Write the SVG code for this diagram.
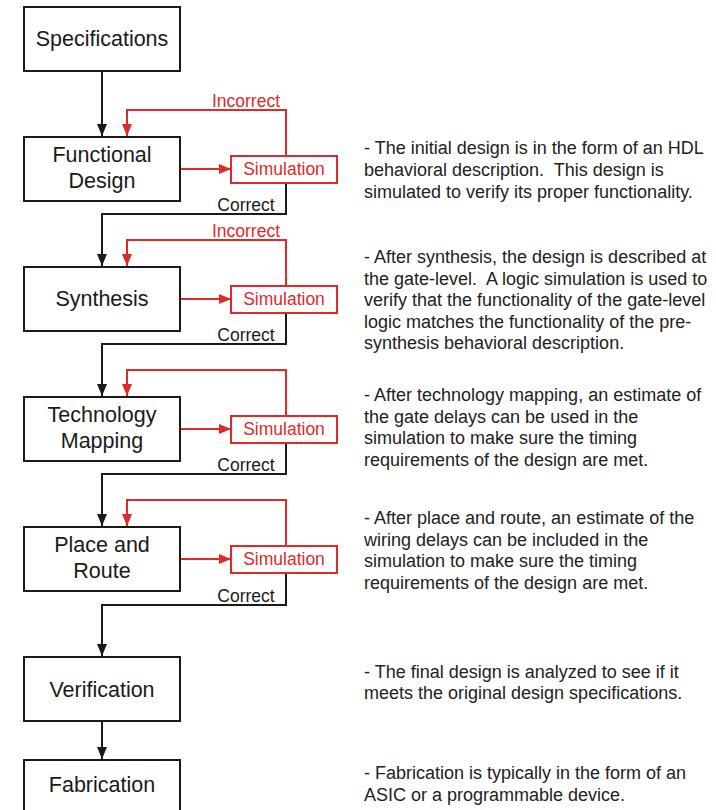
<svg xmlns="http://www.w3.org/2000/svg" width="716" height="810" viewBox="0 0 716 810">
<defs>
<marker id="ab" viewBox="0 0 12 10" refX="12" refY="5" markerWidth="12" markerHeight="10" markerUnits="userSpaceOnUse" orient="auto"><path d="M0,0 L12,5 L0,10 Z" fill="#1a1a1a"/></marker>
<marker id="ar" viewBox="0 0 12 10" refX="12" refY="5" markerWidth="12" markerHeight="10" markerUnits="userSpaceOnUse" orient="auto"><path d="M0,0 L12,5 L0,10 Z" fill="#e02a2a"/></marker>
</defs>
<style>
.box{fill:#fff;stroke:#1a1a1a;stroke-width:2}
.sim{fill:#fff;stroke:#e02a2a;stroke-width:2}
.lbl{font-family:"Liberation Sans",Arial,sans-serif;font-size:21.5px;fill:#1a1a1a;text-anchor:middle}
.simt{font-family:"Liberation Sans",Arial,sans-serif;font-size:17.5px;fill:#e02a2a;text-anchor:middle}
.ct{font-family:"Liberation Sans",Arial,sans-serif;font-size:17.5px;fill:#1a1a1a;text-anchor:middle}
.it{font-family:"Liberation Sans",Arial,sans-serif;font-size:17.5px;fill:#e02a2a;text-anchor:middle}
.desc{font-family:"Liberation Sans",Arial,sans-serif;font-size:18px;fill:#222;white-space:pre}
.bl{fill:none;stroke:#1a1a1a;stroke-width:2}
.rl{fill:none;stroke:#e02a2a;stroke-width:2}
</style>
<rect width="716" height="810" fill="#fff"/>

<g id="connectors">
<path class="bl" d="M102,71 V136" marker-end="url(#ab)"/>
<path class="rl" d="M181,169 H231" marker-end="url(#ar)"/>
<path class="rl" d="M286,155 V110 H127 V136" marker-end="url(#ar)"/>
<path class="bl" d="M286,183 V214 H102 V266" marker-end="url(#ab)"/>
<path class="rl" d="M181,299 H231" marker-end="url(#ar)"/>
<path class="rl" d="M286,285 V240 H127 V266" marker-end="url(#ar)"/>
<path class="bl" d="M286,313 V344 H102 V396" marker-end="url(#ab)"/>
<path class="rl" d="M181,429 H231" marker-end="url(#ar)"/>
<path class="rl" d="M286,415 V370 H127 V396" marker-end="url(#ar)"/>
<path class="bl" d="M286,443 V474 H102 V526" marker-end="url(#ab)"/>
<path class="rl" d="M181,559 H231" marker-end="url(#ar)"/>
<path class="rl" d="M286,545 V500 H127 V526" marker-end="url(#ar)"/>
<path class="bl" d="M286,573 V605 H102 V656" marker-end="url(#ab)"/>
<path class="bl" d="M102,722 V759" marker-end="url(#ab)"/>
<text class="it" x="246" y="107">Incorrect</text>
<text class="ct" x="246" y="211">Correct</text>
<text class="it" x="246" y="237">Incorrect</text>
<text class="ct" x="246" y="341">Correct</text>
<text class="ct" x="246" y="471">Correct</text>
<text class="ct" x="246" y="602">Correct</text>
</g>

<g id="specifications"><rect class="box" x="24" y="7" width="156" height="64"/><text class="lbl" x="102" y="46">Specifications</text></g>
<g id="functional-design"><rect class="box" x="24" y="137" width="156" height="64"/><text class="lbl" x="102" y="162">Functional</text><text class="lbl" x="102" y="188">Design</text></g>
<g id="sim1"><rect class="sim" x="231" y="156" width="106" height="27"/><text class="simt" x="284" y="175">Simulation</text></g>
<g id="synthesis"><rect class="box" x="24" y="267" width="156" height="64"/><text class="lbl" x="102" y="306">Synthesis</text></g>
<g id="sim2"><rect class="sim" x="231" y="286" width="106" height="27"/><text class="simt" x="284" y="305">Simulation</text></g>
<g id="technology-mapping"><rect class="box" x="24" y="397" width="156" height="64"/><text class="lbl" x="102" y="422">Technology</text><text class="lbl" x="102" y="448">Mapping</text></g>
<g id="sim3"><rect class="sim" x="231" y="416" width="106" height="27"/><text class="simt" x="284" y="435">Simulation</text></g>
<g id="place-and-route"><rect class="box" x="24" y="527" width="156" height="64"/><text class="lbl" x="102" y="552">Place and</text><text class="lbl" x="102" y="578">Route</text></g>
<g id="sim4"><rect class="sim" x="231" y="546" width="106" height="27"/><text class="simt" x="284" y="565">Simulation</text></g>
<g id="verification"><rect class="box" x="24" y="657" width="156" height="64"/><text class="lbl" x="102" y="697">Verification</text></g>
<g id="fabrication"><rect class="box" x="24" y="760" width="156" height="64"/><text class="lbl" x="102" y="792">Fabrication</text></g>

<g id="descriptions">
<text class="desc" x="364" y="154">- The initial design is in the form of an HDL</text>
<text class="desc" x="364" y="176">behavioral description.  This design is</text>
<text class="desc" x="364" y="198">simulated to verify its proper functionality.</text>
<text class="desc" x="364" y="263">- After synthesis, the design is described at</text>
<text class="desc" x="364" y="285">the gate-level.  A logic simulation is used to</text>
<text class="desc" x="364" y="306">verify that the functionality of the gate-level</text>
<text class="desc" x="364" y="328">logic matches the functionality of the pre-</text>
<text class="desc" x="364" y="349">synthesis behavioral description.</text>
<text class="desc" x="364" y="401">- After technology mapping, an estimate of</text>
<text class="desc" x="364" y="423">the gate delays can be used in the</text>
<text class="desc" x="364" y="444">simulation to make sure the timing</text>
<text class="desc" x="364" y="466">requirements of the design are met.</text>
<text class="desc" x="364" y="524">- After place and route, an estimate of the</text>
<text class="desc" x="364" y="546">wiring delays can be included in the</text>
<text class="desc" x="364" y="567">simulation to make sure the timing</text>
<text class="desc" x="364" y="589">requirements of the design are met.</text>
<text class="desc" x="364" y="678">- The final design is analyzed to see if it</text>
<text class="desc" x="364" y="699">meets the original design specifications.</text>
<text class="desc" x="364" y="779">- Fabrication is typically in the form of an</text>
<text class="desc" x="364" y="801">ASIC or a programmable device.</text>
</g>
</svg>
